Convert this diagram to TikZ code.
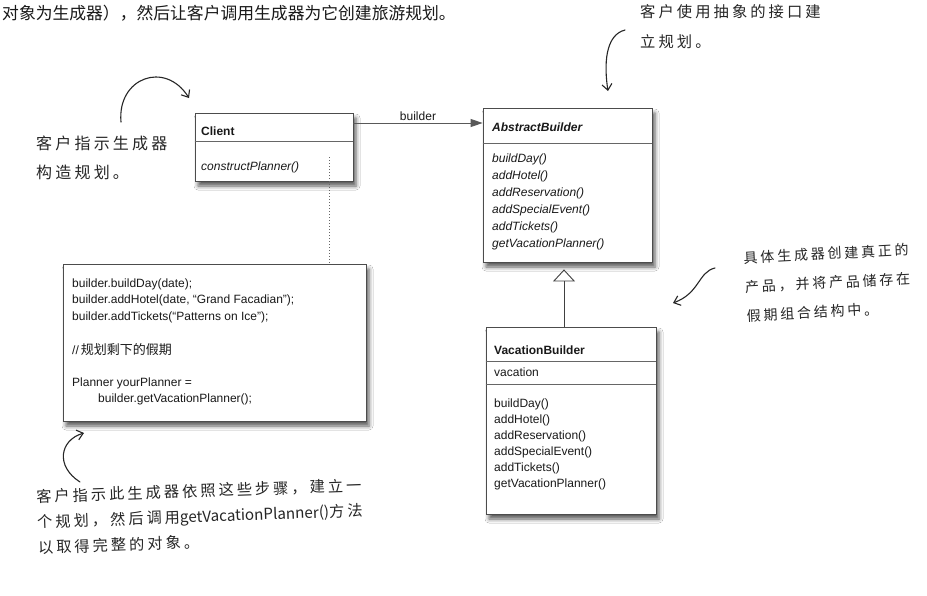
\documentclass[tikz,border=0pt]{standalone}
\usepackage{fontspec}
\setmainfont{Liberation Sans}
\newfontfamily\cjk{Noto Sans CJK SC}
\newfontfamily\hand[LetterSpace=20]{Noto Sans CJK SC}
\usetikzlibrary{arrows.meta,shadows.blur}

\begin{document}
\begin{tikzpicture}[x=1pt,y=-1pt,
  umlbox/.style={draw=black!70, line width=0.8pt, fill=white, inner sep=0pt,
    blur shadow={shadow xshift=3pt, shadow yshift=-5pt, shadow blur radius=4pt, shadow opacity=65}},
  divider/.style={draw=black!60, line width=0.6pt},
  umltext/.style={inner sep=0pt, text=black!90, font=\fontsize{12}{14}\selectfont},
  handtext/.style={inner sep=0pt, text=black!85, align=left},
  hw/.style={draw=black!85, line width=1.1pt, line cap=round,
    -{Straight Barb[length=6pt,width=10pt,line width=1.1pt]}},
  assoc/.style={draw=black!65, line width=0.9pt,
    -{Triangle[length=12pt,width=8pt,fill=black!65]}},
  inh/.style={draw=black!75, line width=0.9pt,
    -{Triangle[open,length=12pt,width=22pt,fill=white]}, shorten >=7pt},
  noteline/.style={draw=black!60, line width=1pt, dash pattern=on 1pt off 2pt}
]
\useasboundingbox (0,0) rectangle (927,595);
\fill[white] (0,0) rectangle (927,595);

% top printed text
\node[inner sep=0pt, anchor=west, text=black!90, font={\cjk\fontsize{16.8}{18}\selectfont}] (toptext) at (2,13)
  {对象为生成器），然后让客户调用生成器为它创建旅游规划。};

% ---------- Client ----------
\node[umlbox, minimum width=158pt, minimum height=68pt] (cl) at (274,147) {};
\draw[divider] (cl.west |- 0,141) -- (cl.east |- 0,141);
\node[umltext, anchor=base west] (clname) at (201,135) {\bfseries Client};
\node[umltext, anchor=base west] (clm) at (201,170) {\itshape constructPlanner()};

% ---------- AbstractBuilder ----------
\node[umlbox, minimum width=169pt, minimum height=154pt] (ab) at (567.5,185) {};
\draw[divider] (ab.west |- 0,143) -- (ab.east |- 0,143);
\node[umltext, anchor=base west] (abname) at (492,131) {\bfseries\itshape AbstractBuilder};
\foreach \t [count=\i] in {buildDay(),addHotel(),addReservation(),addSpecialEvent(),addTickets(),getVacationPlanner()}
  \node[umltext, anchor=base west] (abm\i) at (492,{162+17*(\i-1)}) {\itshape \t};

% ---------- VacationBuilder ----------
\node[umlbox, minimum width=170pt, minimum height=187pt] (vb) at (571,420.5) {};
\draw[divider] (vb.west |- 0,361) -- (vb.east |- 0,361);
\draw[divider] (vb.west |- 0,384) -- (vb.east |- 0,384);
\node[umltext, anchor=base west] (vbname) at (494,354) {\bfseries VacationBuilder};
\node[umltext, anchor=base west] (vbattr) at (494,376) {vacation};
\foreach \t [count=\i] in {buildDay(),addHotel(),addReservation(),addSpecialEvent(),addTickets(),getVacationPlanner()}
  \node[umltext, anchor=base west] (vbm\i) at (494,{407+16*(\i-1)}) {\t};

% ---------- code note ----------
\node[umlbox, minimum width=303pt, minimum height=157pt] (code) at (214.5,342.5) {};
\node[umltext, anchor=base west] (c1) at (72,287) {builder.buildDay(date);};
\node[umltext, anchor=base west] (c2) at (72,303.5) {builder.addHotel(date, “Grand Facadian”);};
\node[umltext, anchor=base west] (c3) at (72,320) {builder.addTickets(“Patterns on Ice”);};
\node[umltext, anchor=base west] (c4) at (72,354) {//\,{\cjk\fontsize{13}{14}\selectfont 规划剩下的假期}};
\node[umltext, anchor=base west] (c5) at (72,386) {Planner yourPlanner =};
\node[umltext, anchor=base west] (c6) at (98,402.5) {builder.getVacationPlanner();};

% ---------- connectors ----------
\coordinate (bl) at (0,123);
\draw[assoc] (cl.east |- bl) -- (ab.west |- bl)
  node[midway, above=2pt, umltext] (blabel) {builder};
\draw[inh] ([xshift=-7pt]vb.north) -- ([xshift=-3.5pt]ab.south);
\coordinate (dtop) at (329,157);
\draw[noteline] (dtop) -- (dtop |- code.north);

% ---------- handwritten notes ----------
\node[handtext, anchor=west, font={\hand\fontsize{15.3}{30}\selectfont}] (n1) at (640,27)
  {客户使用抽象的接口建\\立规划。};
\node[handtext, anchor=west, font={\hand\fontsize{16}{29}\selectfont}] (n2) at (36,157.5)
  {客户指示生成器\\构造规划。};
\node[handtext, anchor=west, rotate=3, font={\hand\fontsize{14}{29}\selectfont}] (n3) at (745,287)
  {具体生成器创建真正的\\产品，并将产品储存在\\假期组合结构中。};
\node[handtext, anchor=west, rotate=2, font={\hand\fontsize{15.2}{25.5}\selectfont}] (n4) at (37,522)
  {客户指示此生成器依照这些步骤，建立一\\个规划，然后调用{\cjk getVacationPlanner()}方法\\以取得完整的对象。};

\coordinate (a1s) at (121,122);
\coordinate (a1e) at (189,98);
\draw[hw] (a1s) .. controls (117,78) and (165,60) .. (a1e);
\coordinate (a2s) at (625,30);
\coordinate (a2e) at (608,91);
\draw[hw] (a2s) .. controls (605,35) and (604,65) .. (a2e);
\coordinate (a3s) at (715,268);
\coordinate (a3e) at (673,303);
\draw[hw] (a3s) .. controls (698,272) and (700,293) .. (a3e);
\coordinate (a4s) at (80,482);
\coordinate (a4e) at (84,433);
\draw[hw] (a4s) .. controls (55,466) and (60,440) .. (a4e);
\end{tikzpicture}
\end{document}
